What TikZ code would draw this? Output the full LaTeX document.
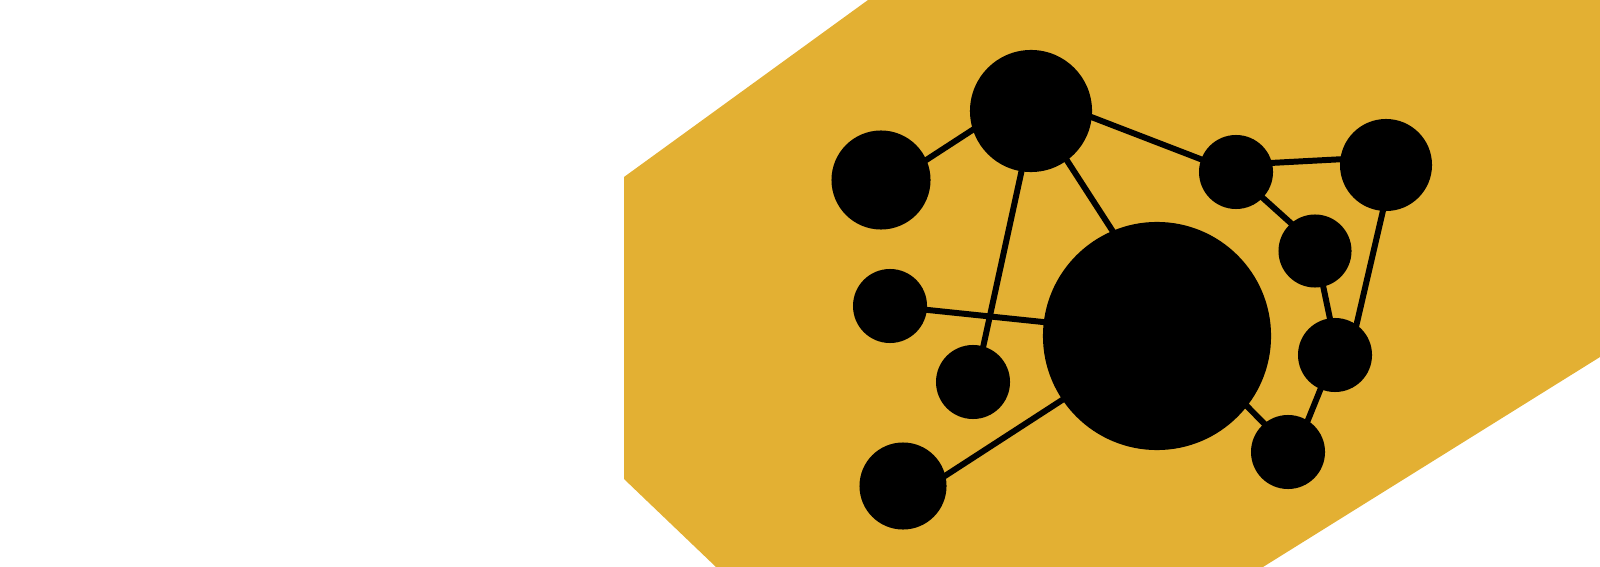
\documentclass[tikz,border=0pt]{standalone}
\definecolor{gold}{RGB}{227,176,51}
\tikzset{
  plate/.style={fill=gold, draw=none},
  dot/.style={circle, fill=black, draw=none, inner sep=0pt},
  link/.style={line width=1.7pt, draw=black, shorten >=-2pt, shorten <=-2pt},
}

\begin{document}
\begin{tikzpicture}[x=0.01cm, y=-0.01cm]

  \useasboundingbox (0,0) rectangle (1600,567);

  \fill[plate] (868,0) -- (1600,0) -- (1600,357) -- (1263,567)
    -- (716,567) -- (624,479) -- (624,177) -- cycle;

  \node[dot, minimum size=2.28cm] (hub)   at (1157,336) {};
  \node[dot, minimum size=1.22cm] (top)   at (1031,111) {};
  \node[dot, minimum size=0.99cm] (left)  at ( 881,180) {};
  \node[dot, minimum size=0.74cm] (mid)   at ( 890,306) {};
  \node[dot, minimum size=0.74cm] (low)   at ( 973,382) {};
  \node[dot, minimum size=0.87cm] (foot)  at ( 903,486) {};
  \node[dot, minimum size=0.74cm] (hop)   at (1236,172) {};
  \node[dot, minimum size=0.92cm] (far)   at (1386,165) {};
  \node[dot, minimum size=0.73cm] (ring1) at (1315,251) {};
  \node[dot, minimum size=0.74cm] (ring2) at (1335,355) {};
  \node[dot, minimum size=0.74cm] (ring3) at (1288,452) {};

  \draw[link] (top.198) -- (left.24);
  \draw[link] (top.-6) -- (hop.160);
  \draw[link] (top.-54) -- (hub.113);
  \draw[link] (top.261) -- (low.74);
  \draw[link] (mid.-6) -- (hub.173);
  \draw[link] (foot.14) -- (hub.214);
  \draw[link] (hop.14) -- (far.173);
  \draw[link] (hop.-44) -- (ring1.131);
  \draw[link] (far.266) -- (ring2.55);
  \draw[link] (ring1.-77) -- (ring2.98);
  \draw[link] (ring2.247) -- (ring3.58);
  \draw[link] (hub.-38) -- (ring3.130);

\end{tikzpicture}
\end{document}
